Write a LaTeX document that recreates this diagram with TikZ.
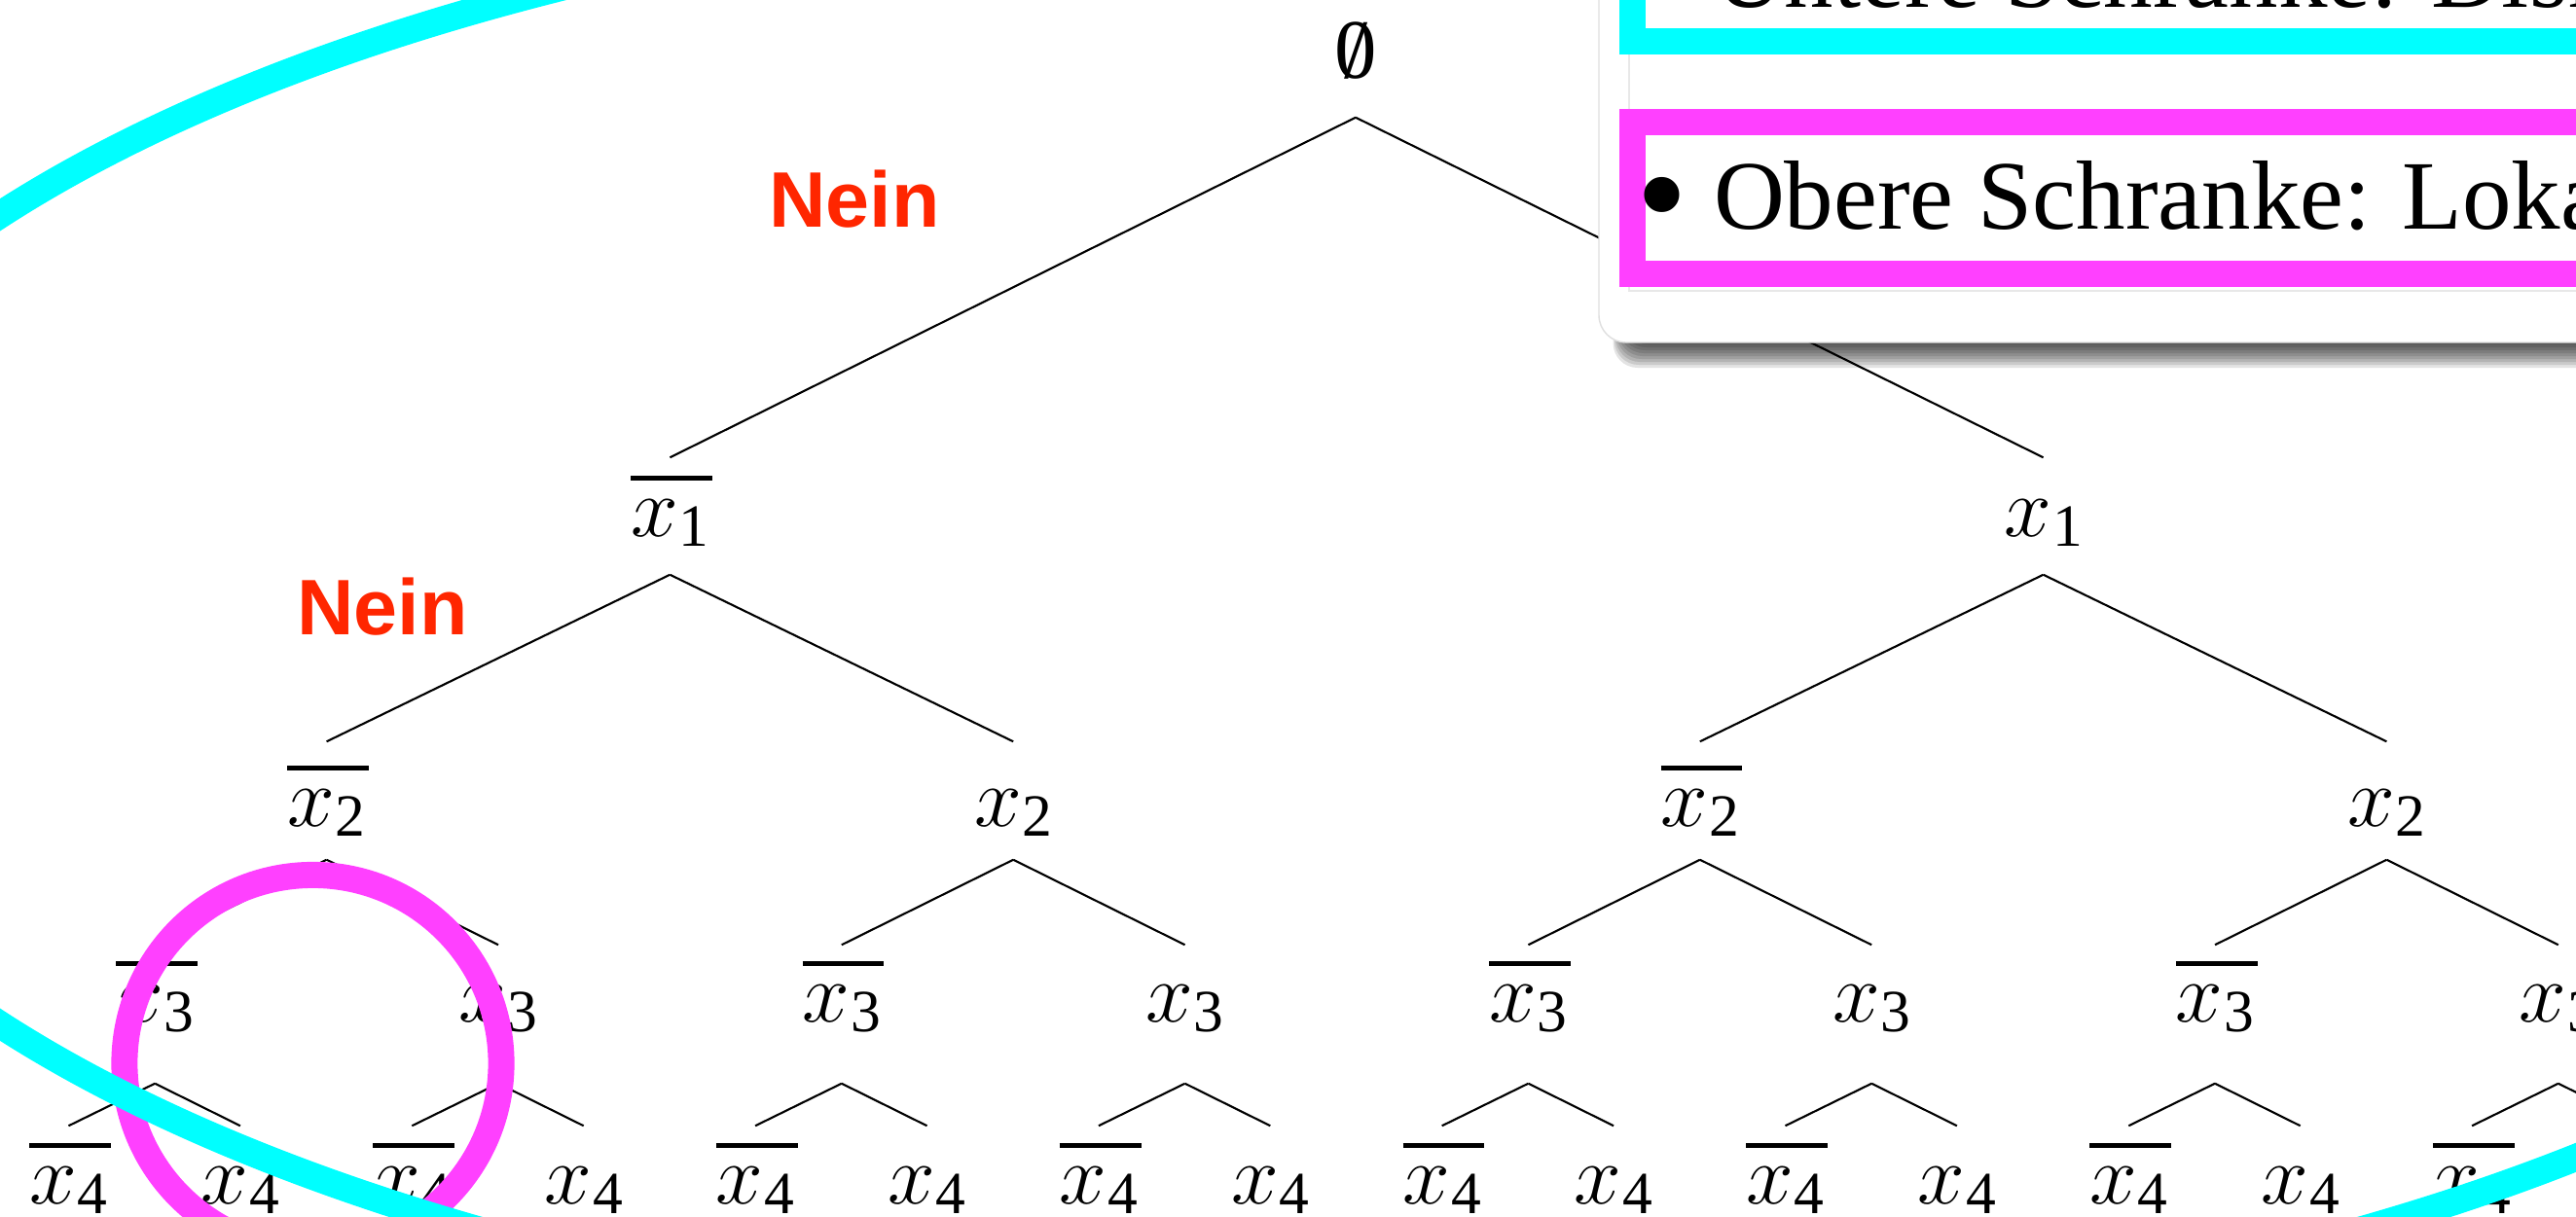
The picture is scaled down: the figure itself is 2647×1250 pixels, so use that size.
\documentclass[tikz,border=0pt]{standalone}
\usepackage{fontspec}
\setmainfont{Liberation Serif}
\newfontfamily\neinfont{Liberation Sans}
\definecolor{neinred}{RGB}{255,38,0}
\definecolor{hlcyan}{RGB}{0,255,255}
\definecolor{hlmag}{RGB}{255,64,255}
\newcommand{\lit}[1]{\(x\)\kern0.01em\raisebox{-0.115em}{\fontsize{17.5}{18}\selectfont #1}}
\newcommand{\nlit}[1]{\setbox0\hbox{\lit{#1}}\rlap{\raisebox{\dimexpr\ht0+0.22em\relax}{\rule{\dimexpr\wd0+0.04em\relax}{0.057em}}}\box0}
\newcommand{\eset}{\ooalign{0\cr\hidewidth/\hidewidth\cr}}
\newcommand{\bigbullet}{{\fontsize{43}{43}\selectfont\raisebox{-4.3pt}{\textbullet}}\hspace{7.5pt}}
\tikzset{
  lbl/.style={font=\fontsize{24.7}{28}\selectfont, anchor=base, inner sep=0pt},
  lv0/.style={lbl, text height=0.60cm, text depth=0.40cm},
  lv1/.style={lbl, text height=0.80cm, text depth=0.39cm},
  lv2/.style={lbl, text height=0.86cm, text depth=0.34cm},
  lv3/.style={lbl, text height=0.78cm, text depth=0.63cm},
  lv4/.style={lbl, text height=0.79cm, text depth=0.10cm},
  edge/.style={line width=0.6pt, black},
  nein/.style={font=\neinfont\bfseries\fontsize{23}{26}\selectfont, text=neinred, anchor=base, inner sep=0pt},
  cardtext/.style={font=\fontsize{28.7}{32}\selectfont, anchor=base west, inner sep=0pt},
  hlframe/.style={line width=0.27cm},
}
\begin{document}
\begin{tikzpicture}[x=0.01cm,y=-0.01cm]
\useasboundingbox (0,0) rectangle (2647,1250);
\clip (0,0) rectangle (2647,1250);
\fill[white] (0,0) rectangle (2647,1250);

% tree
\node[lv0] (r) at (1393,80) {\eset};
\node[lv1] (a) at (688.4,551) {\nlit{1}};
\node[lv1] (b) at (2099.6,551) {\lit{1}};
\draw[edge] (r.south) -- (a.north);
\draw[edge] (r.south) -- (b.north);

\foreach \i/\p in {0/a,1/a,2/b,3/b} {
  \node[lv2] (m\i) at ({335.6+705.6*\i},849) {\ifodd\i\relax\lit{2}\else\nlit{2}\fi};
  \draw[edge] (\p.south) -- (m\i.north);
}
\foreach \j in {0,...,7} {
  \pgfmathtruncatemacro\pj{\j/2}
  \node[lv3] (t\j) at ({159.2+352.8*\j},1050) {\ifodd\j\relax\lit{3}\else\nlit{3}\fi};
  \draw[edge] (m\pj.south) -- (t\j.north);
}
\foreach \k in {0,...,15} {
  \pgfmathtruncatemacro\pk{\k/2}
  \node[lv4] (l\k) at ({70.5+176.4*\k},1237) {\ifodd\k\relax\lit{4}\else\nlit{4}\fi};
  \draw[edge] (t\pk.south) -- (l\k.north);
}

\node[nein] (nein1) at (878,233) {Nein};
\node[nein] (nein2) at (393,652) {Nein};

% highlights
\draw[hlmag, hlframe] (321.5,1093) circle [radius=1.935cm];
\draw[hlcyan, line width=0.28cm] (1459,637) ellipse [x radius=17.5cm, y radius=7.52cm];

% card with shadow
\foreach \s in {0,...,8} {
  \fill[black, opacity=0.11, rounded corners=0.25cm] ({1668-1.3*\s},-100) rectangle (2800,{354+3*\s});
}
\fill[white, draw=gray!25, line width=0.4pt, rounded corners=0.28cm] (1643,-100) rectangle (2800,352);
\draw[gray!18, line width=0.5pt] (1674,-50) rectangle (2800,299);
\draw[hlcyan, hlframe] (1677.5,-100) rectangle (2800,42.5);
\draw[hlmag, hlframe] (1677,125.5) rectangle (2800,281.5);
\node[cardtext] (ut) at (1681,7) {\bigbullet Untere Schranke: Disk};
\node[cardtext] (ob) at (1681,235) {\bigbullet Obere Schranke:\hspace{0.32em}Loka};
\end{tikzpicture}
\end{document}
